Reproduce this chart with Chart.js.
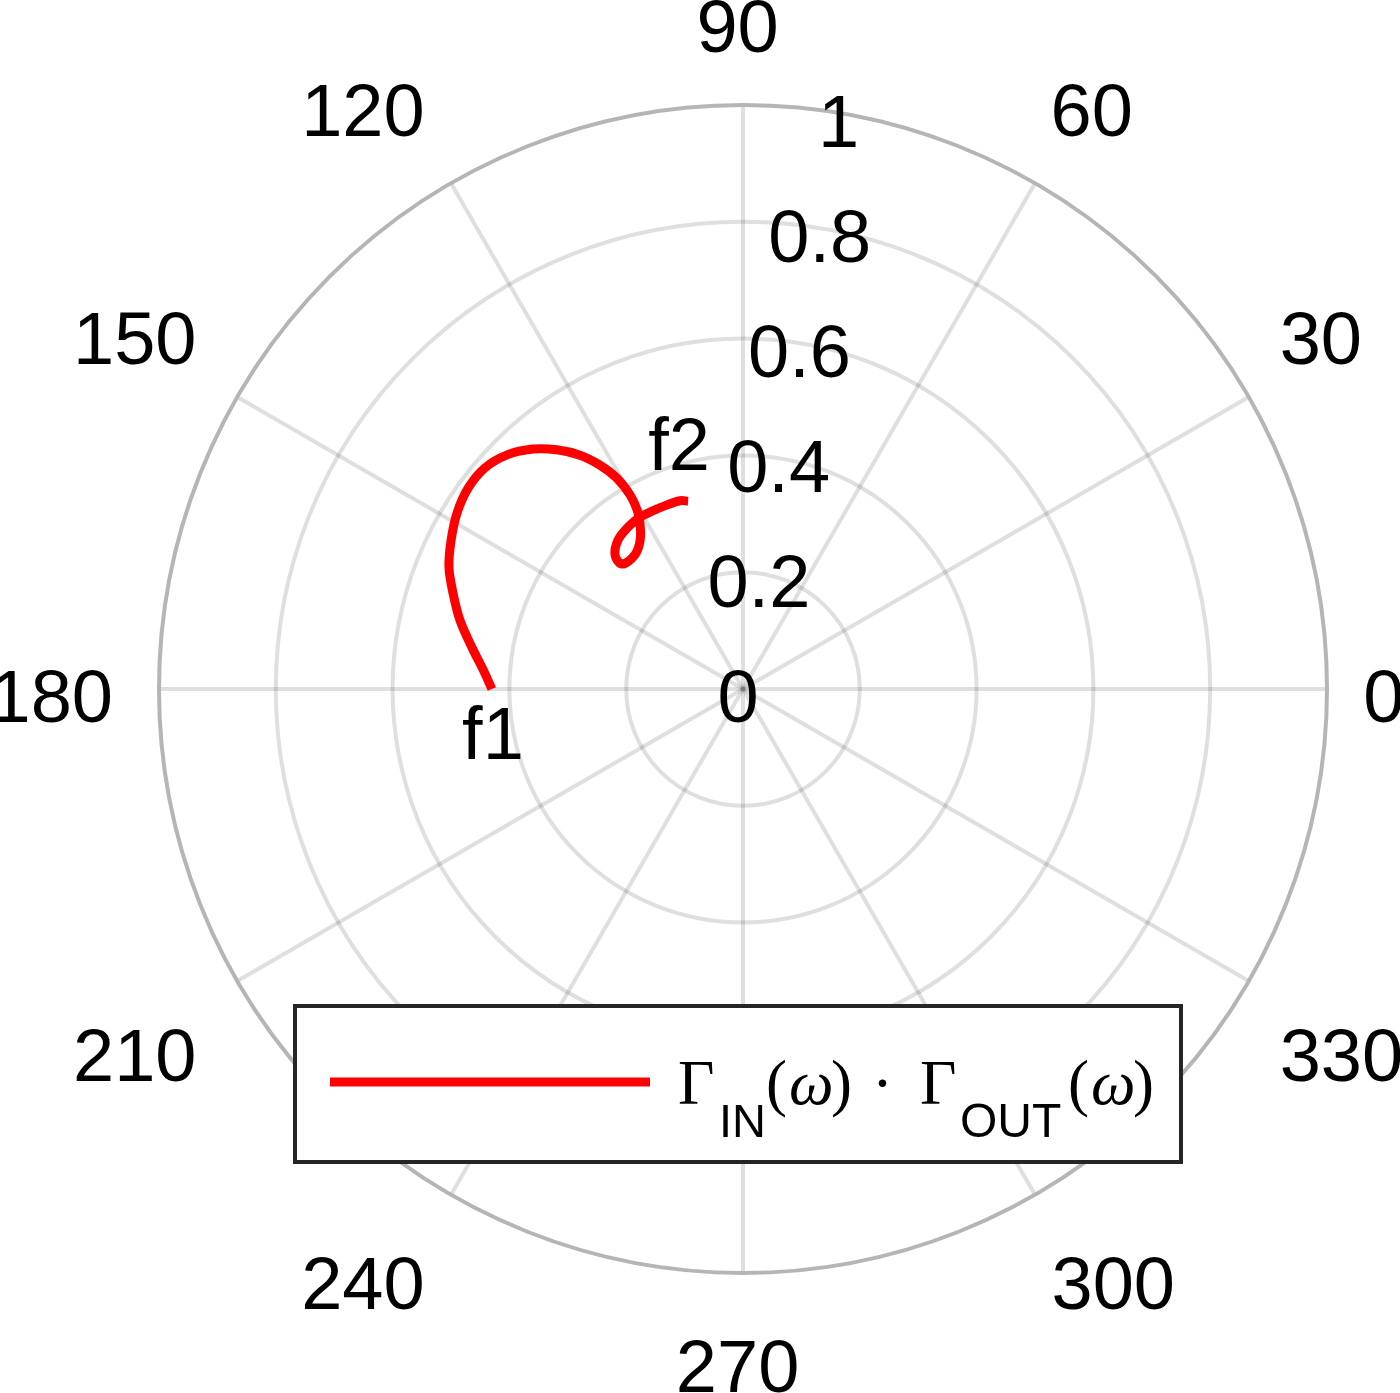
<!DOCTYPE html>
<html>
<head>
<meta charset="utf-8">
<title>Polar plot</title>
<script src="https://cdn.jsdelivr.net/npm/chart.js@4.4.1/dist/chart.umd.min.js"></script>
<style>
  body { margin: 0; background: #fff; }
</style>
</head>
<body>
<canvas id="myChart" width="1400" height="1393"></canvas>
<script>
const ctx = document.getElementById("myChart").getContext("2d");

// trace, f1 -> f2 (angle in degrees, magnitude)
const thetaDeg = [180, 175.8, 171.2, 166.3, 161.7, 157.5, 153.0, 148.4, 143.8, 139.4,
  135.2, 131.2, 127.9, 124.9, 122.6, 120.9, 120.2, 120.6, 121.8, 124.6,
  128.9, 134.1, 133.7, 130.0, 125.4, 120.9, 117.1, 112.4, 108.5, 106.3];
const rho = [0.430, 0.446, 0.470, 0.499, 0.523, 0.545, 0.561, 0.575, 0.583, 0.582,
  0.569, 0.546, 0.519, 0.488, 0.455, 0.421, 0.384, 0.356, 0.335, 0.310,
  0.295, 0.298, 0.317, 0.333, 0.340, 0.343, 0.342, 0.341, 0.340, 0.335];

const angleTicks = [0, 30, 60, 90, 120, 150, 180, 210, 240, 270, 300, 330];
const radialTicks = [0, 0.2, 0.4, 0.6, 0.8, 1];
const radialTickLabels = ["0", "0.2", "0.4", "0.6", "0.8", "1"];
const markerLabels = ["f1", "f2"];
const seriesLabel = "Γ_IN(ω) · Γ_OUT(ω)";

const rad = d => d * Math.PI / 180;
const points = rho.map((r, i) => ({ x: r * Math.cos(rad(thetaDeg[i])), y: r * Math.sin(rad(thetaDeg[i])) }));

const sans = '"Liberation Sans", Arial, sans-serif';
const serif = '"Liberation Serif", "Times New Roman", serif';
const tickFont = 74;

// draw text so its glyph box lands at (gx, gy) with the given anchors
function placeText(ctx, t, gx, gy, hAlign, vAlign) {
  const m = ctx.measureText(t);
  let x, y;
  if (hAlign === "left") x = gx + m.actualBoundingBoxLeft;
  else if (hAlign === "right") x = gx - m.actualBoundingBoxRight;
  else x = gx - (m.actualBoundingBoxRight - m.actualBoundingBoxLeft) / 2;
  if (vAlign === "bottom") y = gy - m.actualBoundingBoxDescent;
  else if (vAlign === "top") y = gy + m.actualBoundingBoxAscent;
  else y = gy + (m.actualBoundingBoxAscent - m.actualBoundingBoxDescent) / 2;
  ctx.fillText(t, x, y);
}

const polarGrid = {
  id: "polarGrid",
  beforeDatasetsDraw(chart) {
    const { ctx, scales: { x, y } } = chart;
    const cx = x.getPixelForValue(0), cy = y.getPixelForValue(0);
    const R = x.getPixelForValue(1) - cx;
    ctx.save();
    ctx.lineWidth = 4;
    ctx.strokeStyle = "rgba(38,38,38,0.15)";
    angleTicks.forEach(a => {
      ctx.beginPath();
      ctx.moveTo(cx, cy);
      ctx.lineTo(x.getPixelForValue(Math.cos(rad(a))), y.getPixelForValue(Math.sin(rad(a))));
      ctx.stroke();
    });
    radialTicks.forEach(r => {
      if (r === 0 || r === 1) return;
      ctx.beginPath();
      ctx.arc(cx, cy, R * r, 0, Math.PI * 2);
      ctx.stroke();
    });
    ctx.strokeStyle = "#b5b5b5";
    ctx.beginPath();
    ctx.arc(cx, cy, R, 0, Math.PI * 2);
    ctx.stroke();
    ctx.restore();
  },
  afterDatasetsDraw(chart) {
    const { ctx, scales: { x, y } } = chart;
    const cx = x.getPixelForValue(0), cy = y.getPixelForValue(0);
    const R = x.getPixelForValue(1) - cx;
    ctx.save();
    ctx.fillStyle = "#000";
    ctx.font = tickFont + "px " + sans;
    ctx.textAlign = "left";
    ctx.textBaseline = "alphabetic";

    // angle labels around the outside
    angleTicks.forEach(a => {
      const c = Math.cos(rad(a)), s = Math.sin(rad(a));
      const ax = cx + R * 1.067 * c, ay = cy - R * 1.067 * s;
      let h = "center", v = "middle", gx = ax - 5, gy = ay + 7.5;
      if (c > 0.01) { h = "left"; gx = ax - 1; }
      if (c < -0.01) { h = "right"; gx = ax - 9; }
      if (s > 0.01) { v = "bottom"; gy = ay - 12.5; }
      if (s < -0.01) { v = "top"; gy = ay + 28; }
      placeText(ctx, String(a), gx, gy, h, v);
    });

    // radial labels along 80 deg
    radialTicks.forEach((r, i) => {
      const px = x.getPixelForValue(r * Math.cos(rad(80))) - 5;
      const py = y.getPixelForValue(r * Math.sin(rad(80))) + 7.5;
      placeText(ctx, radialTickLabels[i], px, py, "center", "middle");
    });

    // start / end markers
    const first = points[0], last = points[points.length - 1];
    placeText(ctx, markerLabels[0], x.getPixelForValue(first.x), y.getPixelForValue(first.y) + 43, "center", "middle");
    placeText(ctx, markerLabels[1], x.getPixelForValue(last.x) - 10, y.getPixelForValue(last.y) - 58, "center", "middle");
    ctx.restore();
  },
  afterDraw(chart) {
    const { ctx } = chart;
    const ds = chart.data.datasets[0];
    ctx.save();
    ctx.fillStyle = "#fff";
    ctx.fillRect(295, 1006, 886, 156);
    ctx.lineWidth = 4;
    ctx.strokeStyle = "#262626";
    ctx.strokeRect(295, 1006, 886, 156);

    ctx.strokeStyle = ds.borderColor;
    ctx.lineWidth = ds.borderWidth;
    ctx.beginPath();
    ctx.moveTo(330, 1082);
    ctx.lineTo(650, 1082);
    ctx.stroke();

    // label with subscripts
    ctx.fillStyle = "#000";
    ctx.textAlign = "left";
    ctx.textBaseline = "alphabetic";
    const base = 1104;
    const parts = [
      ["Γ", "63px " + serif, 678, 0],
      ["IN", "47px " + sans, 719, 33],
      ["(", "63px " + serif, 766, 0],
      ["ω", "italic 63px " + serif, 789, 0],
      [")", "63px " + serif, 831, 0],
      ["·", "63px " + serif, 872, 0],
      ["Γ", "63px " + serif, 920, 0],
      ["OUT", "48px " + sans, 960, 33],
      ["(", "63px " + serif, 1068, 0],
      ["ω", "italic 63px " + serif, 1091, 0],
      [")", "63px " + serif, 1133, 0]
    ];
    parts.forEach(p => {
      ctx.font = p[1];
      ctx.fillText(p[0], p[2], base + p[3]);
    });
    ctx.restore();
  }
};

const data = {
  datasets: [{
    label: seriesLabel,
    data: points,
    showLine: true,
    borderColor: "#ff0000",
    borderWidth: 9,
    borderCapStyle: "butt",
    pointRadius: 0,
    tension: 0.35,
    fill: false
  }]
};

const config = {
  type: "scatter",
  data: data,
  options: {
    responsive: false,
    animation: false,
    events: [],
    layout: { padding: { left: 159, right: 73, top: 105, bottom: 120 } },
    scales: {
      x: { type: "linear", min: -1, max: 1, display: false },
      y: { type: "linear", min: -1, max: 1, display: false }
    },
    plugins: {
      legend: { display: false },
      tooltip: { enabled: false }
    }
  },
  plugins: [polarGrid]
};

const myChart = new Chart(ctx, config);
</script>
</body>
</html>
